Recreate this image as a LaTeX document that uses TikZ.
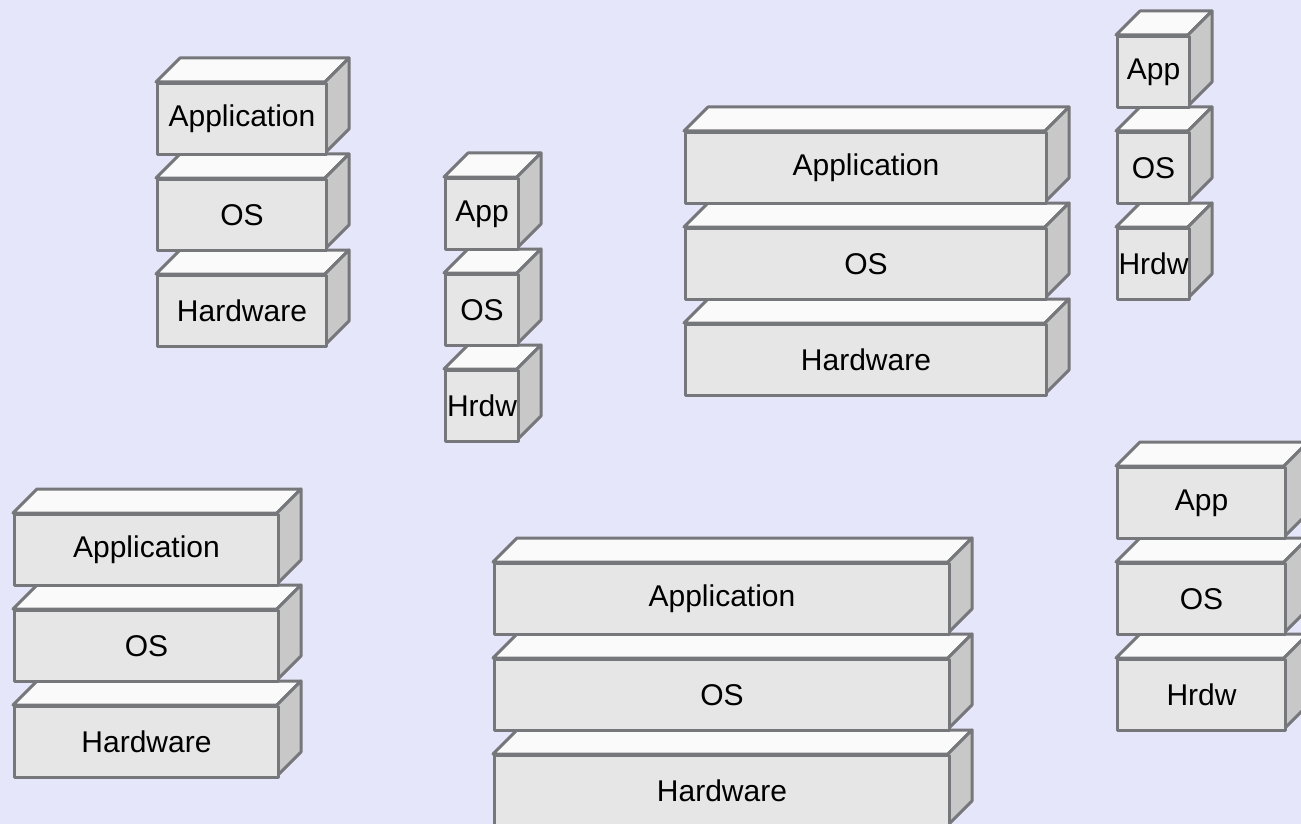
\documentclass[tikz,border=0pt]{standalone}
\usepackage{fontspec}
\setmainfont{Liberation Sans}
\definecolor{bg}{RGB}{230,230,250}
\definecolor{edge}{RGB}{118,119,123}
\definecolor{frontfill}{RGB}{230,230,230}
\definecolor{topfill}{RGB}{250,250,250}
\definecolor{sidefill}{RGB}{200,200,200}
\tikzset{
  face/.style={draw=edge, line width=3pt, line join=round},
  topface/.style={face, fill=topfill},
  sideface/.style={face, fill=sidefill},
  frontface/.style={face, fill=frontfill, rectangle, inner sep=0pt,
    font=\fontsize{30}{36}\selectfont, text=black},
}
\newcommand{\layerdepth}{24}
% one layer: #1 name, #2 x, #3 y (top of front face), #4 width, #5 height, #6 label
\newcommand{\layerbox}[6]{%
  \draw[topface] (#2,{#3}) -- ++(\layerdepth,-\layerdepth) -- ++(#4,0)
    -- ++(-\layerdepth,\layerdepth) -- cycle;
  \draw[sideface] ({#2+#4},{#3}) -- ++(\layerdepth,-\layerdepth) -- ++(0,#5)
    -- ++(-\layerdepth,\layerdepth) -- cycle;
  \node[frontface, minimum width=#4pt, minimum height=#5pt, anchor=north west]
    (#1) at (#2,{#3}) {#6};
}
% a stack of three layers: #1 prefix, #2 x, #3 y of top layer, #4 width, #5-#7 labels
\newcommand{\layerstack}[7]{%
  \layerbox{#1h}{#2}{#3+192}{#4}{71}{#7}
  \layerbox{#1o}{#2}{#3+96}{#4}{71}{#6}
  \layerbox{#1a}{#2}{#3}{#4}{71}{#5}
}
\begin{document}
\begin{tikzpicture}[x=1pt, y=-1pt]
  \fill[bg] (0,0) rectangle (1301,824);
  \useasboundingbox (0,0) rectangle (1301,824);
  \clip (0,0) rectangle (1301,824);
  \layerstack{s1}{156}{82}{169}{Application}{OS}{Hardware}
  \layerstack{s2}{444}{177}{73}{App}{OS}{Hrdw}
  \layerstack{s3}{684}{131}{361}{Application}{OS}{Hardware}
  \layerstack{s4}{1116}{35}{72}{App}{OS}{Hrdw}
  \layerstack{s5}{13}{513}{264}{Application}{OS}{Hardware}
  \layerstack{s6}{493}{562}{455}{Application}{OS}{Hardware}
  \layerstack{s7}{1116}{466}{168}{App}{OS}{Hrdw}
\end{tikzpicture}
\end{document}
